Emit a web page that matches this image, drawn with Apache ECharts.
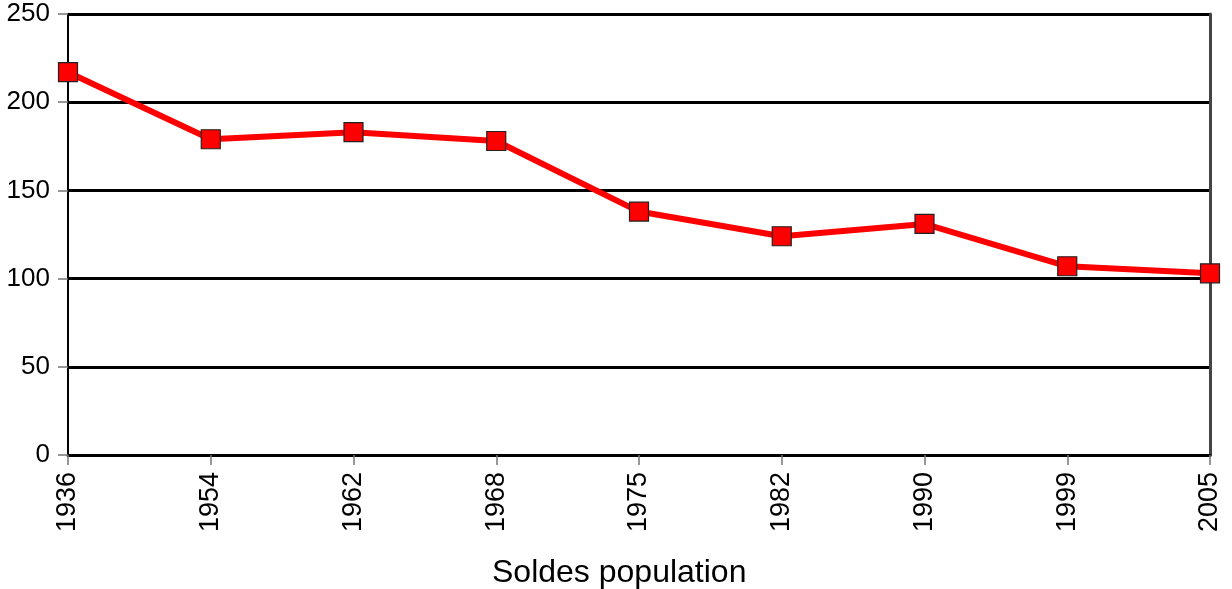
<!DOCTYPE html>
<html><head><meta charset="utf-8">
<script src="https://cdn.jsdelivr.net/npm/echarts@6/dist/echarts.min.js"></script>
<style>html,body{margin:0;padding:0;background:#fff}#c{width:1232px;height:589px}</style>
</head><body><div id="c"></div>
<script>
const years = ['1936','1954','1962','1968','1975','1982','1990','1999','2005'];
const population = [217, 179, 183, 178, 138, 124, 131, 107, 103];
const yTicks = {min: 0, max: 250, interval: 50};
const chartTitle = 'Soldes population';

const chart = echarts.init(document.getElementById('c'), null, {renderer: 'canvas'});
chart.setOption({
  animation: false,
  backgroundColor: '#ffffff',
  title: {
    text: chartTitle, left: 487, top: 552,
    textStyle: {fontFamily: 'Liberation Sans', fontSize: 32, fontWeight: 'normal', color: '#000'}
  },
  grid: {left: 68, right: 22, top: 14, bottom: 134},
  xAxis: {
    type: 'category', data: years, boundaryGap: false,
    axisLine: {show: true, lineStyle: {color: '#000', width: 3}},
    axisTick: {show: true, alignWithLabel: true, length: 10, lineStyle: {color: '#777', width: 1.5}},
    axisLabel: {rotate: 90, margin: 17, fontFamily: 'Liberation Sans', fontSize: 27, color: '#000'},
    splitLine: {show: false}
  },
  yAxis: [{
    type: 'value', min: yTicks.min, max: yTicks.max, interval: yTicks.interval,
    axisLine: {show: true, lineStyle: {color: '#000', width: 2}},
    axisTick: {show: true, length: 10, lineStyle: {color: '#777', width: 1.5}},
    axisLabel: {margin: 18, fontFamily: 'Liberation Sans', fontSize: 26, color: '#000', padding: [3, 0, 0, 0]},
    splitLine: {show: true, lineStyle: {color: '#000', width: 3}}
  }, {
    type: 'value', position: 'right', min: yTicks.min, max: yTicks.max, interval: yTicks.interval,
    axisLine: {show: true, lineStyle: {color: '#444', width: 3}},
    axisTick: {show: false}, axisLabel: {show: false}, splitLine: {show: false}
  }],
  series: [{
    type: 'line', data: population, yAxisIndex: 0,
    symbol: 'rect', symbolSize: 19,
    lineStyle: {color: '#ff0000', width: 6},
    itemStyle: {color: '#ff0000', borderColor: '#222', borderWidth: 1.2},
    z: 10
  }]
});
</script></body></html>
